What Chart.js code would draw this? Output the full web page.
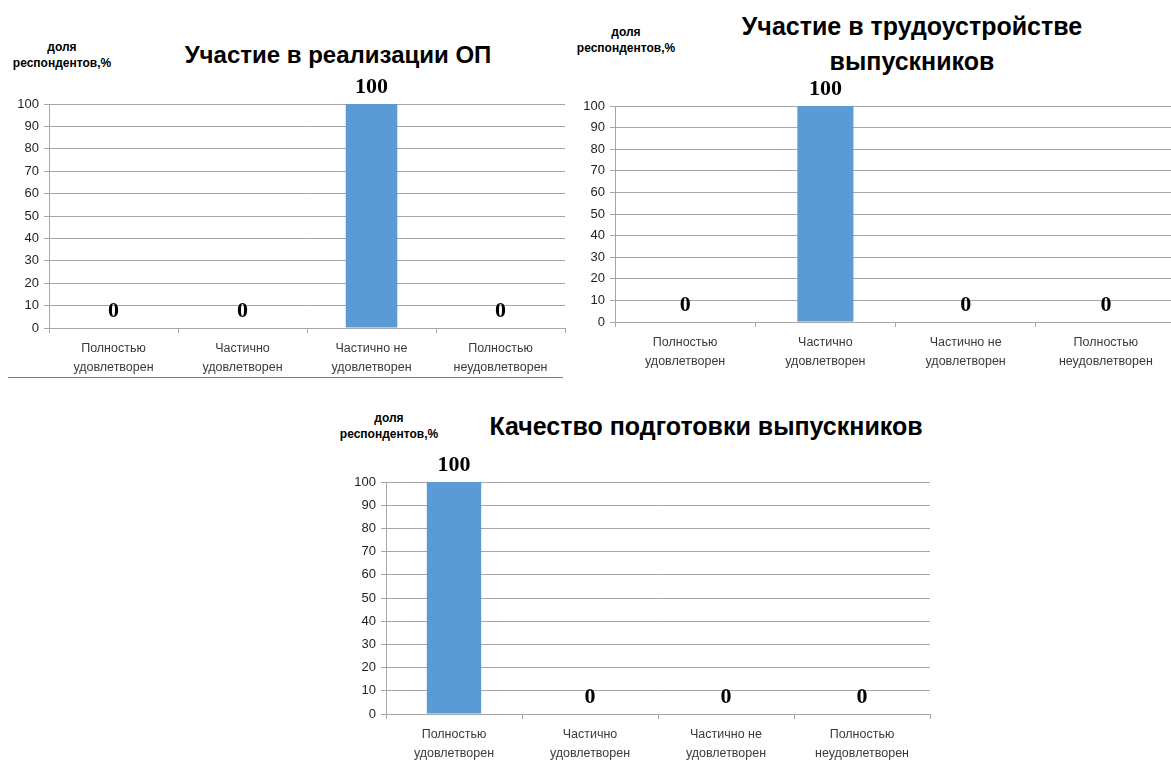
<!DOCTYPE html>
<html>
<head>
<meta charset="utf-8">
<script src="https://cdn.jsdelivr.net/npm/chart.js@4"></script>
<style>
  html, body { margin: 0; padding: 0; background: #fff; }
  body { position: relative; width: 1171px; height: 762px; overflow: hidden; font-family: "Liberation Sans", Arial, sans-serif; }
  canvas { position: absolute; }
  .title { position: absolute; font-weight: bold; font-size: 24px; color: #000; text-align: center; line-height: 35px; white-space: nowrap; transform: translateX(-50%); }
  .caption { position: absolute; font-weight: bold; font-size: 12px; color: #000; text-align: center; line-height: 16px; white-space: nowrap; transform: translateX(-50%); }
  .frame-line { position: absolute; height: 0; border-top: 1px solid #7f7f7f; }
</style>
</head>
<body>
<div class="caption" style="left:62px; top:39px;">доля<br>респондентов,%</div>
<div class="title" style="left:338px; top:37px;">Участие в реализации ОП</div>
<canvas id="chart-op" width="569" height="314" style="left:0; top:64px;"></canvas>
<div class="frame-line" style="left:8px; top:377px; width:555px;"></div>

<div class="caption" style="left:626px; top:24px;">доля<br>респондентов,%</div>
<div class="title" style="left:912px; top:9px; font-size:25px;">Участие в трудоустройстве<br>выпускников</div>
<canvas id="chart-job" width="610" height="306" style="left:570px; top:66px;"></canvas>

<div class="caption" style="left:389px; top:410px;">доля<br>респондентов,%</div>
<div class="title" style="left:706px; top:409px; font-size:25px;">Качество подготовки выпускников</div>
<canvas id="chart-quality" width="594" height="322" style="left:340px; top:442px;"></canvas>

<script>
// categories shared by all three charts
const categories = [
  ['Полностью', 'удовлетворен'],
  ['Частично', 'удовлетворен'],
  ['Частично не', 'удовлетворен'],
  ['Полностью', 'неудовлетворен']
];

// share of respondents, %
const opValues = [0, 0, 100, 0];
const jobValues = [0, 100, 0, 0];
const qualityValues = [100, 0, 0, 0];

// y axis ticks
const yMin = 0;
const yMax = 100;
const yStep = 10;

const barColor = '#5b9bd5';
const gridColor = '#a6a6a6';

// value labels above each bar (Excel-style, big serif)
const valueLabels = {
  id: 'valueLabels',
  afterDatasetsDraw(chart) {
    const ctx = chart.ctx;
    const data = chart.data.datasets[0].data;
    ctx.save();
    ctx.font = 'bold 22px "Liberation Serif", "Times New Roman", serif';
    ctx.fillStyle = '#000';
    ctx.textAlign = 'center';
    ctx.textBaseline = 'middle';
    chart.getDatasetMeta(0).data.forEach((bar, i) => {
      ctx.fillText(String(data[i]), bar.x, bar.y - 17);
    });
    ctx.restore();
  }
};

function makeChart(id, values, axisWidth) {
  const ctx = document.getElementById(id);
  return new Chart(ctx, {
    type: 'bar',
    data: {
      labels: categories,
      datasets: [{
        data: values,
        backgroundColor: barColor,
        borderWidth: 0,
        barPercentage: 0.4,
        categoryPercentage: 1
      }]
    },
    options: {
      responsive: false,
      animation: false,
      layout: { padding: { top: 40, right: 4, left: 0, bottom: 0 } },
      plugins: {
        legend: { display: false },
        tooltip: { enabled: false }
      },
      scales: {
        x: {
          offset: true,
          grid: {
            offset: true,
            drawOnChartArea: false,
            drawTicks: true,
            tickLength: 5,
            color: gridColor
          },
          border: { color: gridColor },
          ticks: {
            color: '#3a3a3a',
            padding: 6,
            maxRotation: 0,
            autoSkip: false,
            font: { family: '"Liberation Sans", Arial, sans-serif', size: 12.5, lineHeight: 1.5 }
          },
          afterFit: (scale) => { scale.height = 50; }
        },
        y: {
          min: yMin,
          max: yMax,
          grid: {
            color: gridColor,
            tickLength: 5
          },
          border: { color: gridColor },
          ticks: {
            stepSize: yStep,
            color: '#1f1f1f',
            padding: 5,
            font: { family: '"Liberation Sans", Arial, sans-serif', size: 13 }
          },
          afterFit: (scale) => { scale.width = axisWidth; }
        }
      }
    },
    plugins: [valueLabels]
  });
}

makeChart('chart-op', opValues, 49);
makeChart('chart-job', jobValues, 45);
makeChart('chart-quality', qualityValues, 46);
</script>
</body>
</html>
